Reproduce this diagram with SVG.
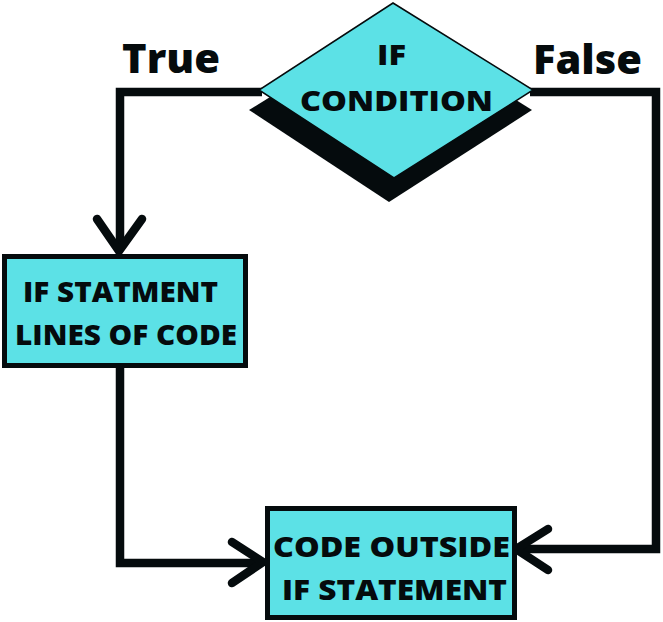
<svg xmlns="http://www.w3.org/2000/svg" width="663" height="622" viewBox="0 0 663 622">
<style>
.bg{fill:#ffffff}
.fill{fill:#5ce1e6}
.box{fill:#5ce1e6;stroke:#050b0d;stroke-width:5}
.dia{fill:#5ce1e6;stroke:#050b0d;stroke-width:1.5;stroke-linejoin:miter}
.shadow{fill:#050b0d}
.line{fill:none;stroke:#050b0d;stroke-width:8.5;stroke-linejoin:miter;stroke-linecap:butt}
.head{fill:none;stroke:#050b0d;stroke-width:8.5;stroke-linejoin:miter;stroke-linecap:round}
.t{font-family:"Open Sans","Liberation Sans",sans-serif;font-weight:800;fill:#050b0d}
.lbl{font-size:29px}
.big{font-size:40px}
</style>
<rect class="bg" x="0" y="0" width="663" height="622"/>
<g id="connectors">
  <path class="line" d="M 262 92 H 120 V 248"/>
  <path class="head" d="M 97 219 L 119 251 L 142 219"/>
  <path class="line" d="M 120 366 V 563 H 262"/>
  <path class="head" d="M 232 542 L 263 562 L 232 583"/>
  <path class="line" d="M 530 92 H 656 V 549 H 518"/>
  <path class="head" d="M 548 529 L 516 549 L 548 570"/>
</g>
<g id="node-condition">
  <polygon class="shadow" points="249,110 391,22 532,110 389,202"/>
  <polygon class="dia" points="393,3 533,90 394,178 259,90"/>
  <text class="t lbl" x="377" y="65" textLength="29" lengthAdjust="spacingAndGlyphs">IF</text>
  <text class="t lbl" x="300" y="111" textLength="193" lengthAdjust="spacingAndGlyphs">CONDITION</text>
</g>
<g id="label-true">
  <text class="t big" x="122" y="73" textLength="98" lengthAdjust="spacingAndGlyphs">True</text>
</g>
<g id="label-false">
  <text class="t big" x="533" y="74" textLength="109" lengthAdjust="spacingAndGlyphs">False</text>
</g>
<g id="node-if-statement">
  <rect class="box" x="4.5" y="256.5" width="241" height="109"/>
  <text class="t lbl" x="23" y="302" textLength="195" lengthAdjust="spacingAndGlyphs">IF STATMENT</text>
  <text class="t lbl" x="15" y="345" textLength="222" lengthAdjust="spacingAndGlyphs">LINES OF CODE</text>
</g>
<g id="node-outside">
  <rect class="box" x="267.5" y="508.5" width="247" height="109"/>
  <text class="t lbl" x="273" y="557" textLength="237" lengthAdjust="spacingAndGlyphs">CODE OUTSIDE</text>
  <text class="t lbl" x="282" y="600" textLength="225" lengthAdjust="spacingAndGlyphs">IF STATEMENT</text>
</g>
</svg>
